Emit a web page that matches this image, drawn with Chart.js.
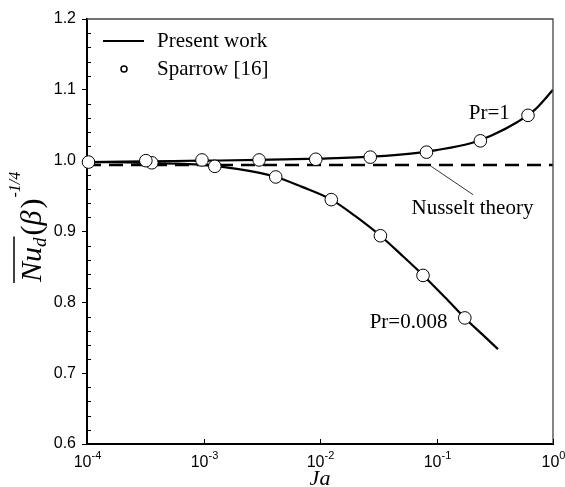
<!DOCTYPE html>
<html lang="en">
<head>
    <meta charset="UTF-8">
    <title>Nu vs Ja</title>
    <style>
        body {
            margin: 0;
            padding: 0;
            background-color: #ffffff;
        }
        #wrap {
            width: 565px;
            height: 487px;
        }
    </style>
    <script src="https://cdn.jsdelivr.net/npm/chart.js"></script>
</head>
<body>
    <div id="wrap">
        <canvas id="nuChart" width="565" height="487"></canvas>
    </div>

    <script>
        // present work, Pr = 1
        const pr1Ja = [1e-4, 3e-4, 1e-3, 3e-3, 1e-2, 3e-2, 0.06, 0.1, 0.2, 0.3, 0.5, 0.7, 1];
        const pr1Nu = [0.998, 0.999, 1.000, 1.001, 1.003, 1.006, 1.010, 1.015, 1.025, 1.036, 1.055, 1.072, 1.100];

        // present work, Pr = 0.008
        const pr008Ja = [1e-4, 3e-4, 1e-3, 2e-3, 4e-3, 7e-3, 0.0125, 0.02, 0.033, 0.05, 0.077, 0.12, 0.175, 0.25, 0.337];
        const pr008Nu = [0.998, 0.997, 0.994, 0.988, 0.978, 0.963, 0.945, 0.922, 0.894, 0.867, 0.838, 0.806, 0.778, 0.754, 0.734];

        // Sparrow [16]
        const sparrowPr1Ja = [1.03e-4, 3.2e-4, 9.7e-4, 3e-3, 9.2e-3, 0.027, 0.082, 0.238, 0.61];
        const sparrowPr1Nu = [0.998, 1.000, 1.001, 1.001, 1.002, 1.005, 1.012, 1.028, 1.064];
        const sparrowPr008Ja = [3.6e-4, 1.25e-3, 4.17e-3, 0.0125, 0.033, 0.0766, 0.175];
        const sparrowPr008Nu = [0.997, 0.992, 0.977, 0.945, 0.894, 0.838, 0.778];

        // Nusselt theory and its pointer
        const nusseltJa = [1e-4, 1];
        const nusseltNu = [0.994, 0.994];
        const pointerJa = [0.09, 0.206];
        const pointerNu = [0.992, 0.952];

        const xDecades = [1e-4, 1e-3, 1e-2, 1e-1, 1];
        const xExponents = ['-4', '-3', '-2', '-1', '0'];
        const yMinorTicks = [0.62, 0.64, 0.66, 0.68, 0.72, 0.74, 0.76, 0.78, 0.82, 0.84, 0.86, 0.88,
                             0.92, 0.94, 0.96, 0.98, 1.02, 1.04, 1.06, 1.08, 1.12, 1.14, 1.16, 1.18];

        const toPoints = (xs, ys) => xs.map((x, i) => ({ x: x, y: ys[i] }));

        const serif = '"Liberation Serif", "Times New Roman", serif';
        const sans = '"Liberation Sans", Arial, sans-serif';

        // everything the axes need but Chart.js doesn't draw
        const extras = {
            id: 'extras',
            afterDraw(chart) {
                const ctx = chart.ctx;
                const xs = chart.scales.x;
                const ys = chart.scales.y;
                const a = chart.chartArea;
                ctx.save();

                // top and right frame
                ctx.strokeStyle = '#444';
                ctx.lineWidth = 1.3;
                ctx.beginPath();
                ctx.moveTo(a.left, a.top);
                ctx.lineTo(a.right, a.top);
                ctx.lineTo(a.right, a.bottom);
                ctx.stroke();

                // minor y ticks, inward
                ctx.strokeStyle = '#000';
                ctx.lineWidth = 1;
                yMinorTicks.forEach(v => {
                    const py = Math.round(ys.getPixelForValue(v)) + 0.5;
                    ctx.beginPath();
                    ctx.moveTo(a.left, py);
                    ctx.lineTo(a.left + 4, py);
                    ctx.stroke();
                });

                // x decade ticks (inward) and labels 10^n
                xDecades.forEach((v, i) => {
                    const px = Math.round(xs.getPixelForValue(v)) + 0.5;
                    ctx.beginPath();
                    ctx.moveTo(px, a.bottom);
                    ctx.lineTo(px, a.bottom - 5);
                    ctx.stroke();

                    ctx.fillStyle = '#000';
                    ctx.textBaseline = 'alphabetic';
                    ctx.textAlign = 'left';
                    ctx.font = '16px ' + sans;
                    const w1 = ctx.measureText('10').width;
                    ctx.font = '11px ' + sans;
                    const w2 = ctx.measureText(xExponents[i]).width;
                    const start = px - (w1 + w2) / 2;
                    ctx.font = '16px ' + sans;
                    ctx.fillText('10', start, 467);
                    ctx.font = '11px ' + sans;
                    ctx.fillText(xExponents[i], start + w1, 459);
                });

                // x title
                ctx.font = 'italic 22px ' + serif;
                ctx.textAlign = 'center';
                ctx.fillText('Ja', (a.left + a.right) / 2, 485);

                // y title, rotated
                ctx.save();
                ctx.translate(41, 282);
                ctx.rotate(-Math.PI / 2);
                ctx.textAlign = 'left';
                let cx = 0;
                ctx.font = 'italic 30px ' + serif;
                ctx.fillText('Nu', cx, 0);
                cx += ctx.measureText('Nu').width;
                ctx.font = 'italic 19px ' + serif;
                ctx.fillText('d', cx, 5);
                cx += ctx.measureText('d').width;
                // overline over Nu_d
                ctx.lineWidth = 1.5;
                ctx.beginPath();
                ctx.moveTo(-1, -27);
                ctx.lineTo(cx + 1, -27);
                ctx.stroke();
                cx += 2;
                ctx.font = '30px ' + serif;
                ctx.fillText('(', cx, 0);
                cx += ctx.measureText('(').width;
                ctx.font = 'italic 30px ' + serif;
                ctx.fillText('\u03B2', cx, 0);
                cx += ctx.measureText('\u03B2').width + 2;
                ctx.font = '30px ' + serif;
                ctx.fillText(')', cx, 0);
                cx += ctx.measureText(')').width + 1;
                ctx.font = 'italic 16px ' + serif;
                ctx.fillText('-1/4', cx, -21);
                ctx.restore();

                // curve labels
                ctx.font = '21px ' + serif;
                ctx.textAlign = 'left';
                ctx.textBaseline = 'middle';
                ctx.fillText('Pr=1', xs.getPixelForValue(0.189), ys.getPixelForValue(1.067));
                ctx.fillText('Pr=0.008', xs.getPixelForValue(0.0267), ys.getPixelForValue(0.771));
                ctx.fillText('Nusselt theory', xs.getPixelForValue(0.061), ys.getPixelForValue(0.933));

                // legend
                ctx.lineWidth = 2.2;
                ctx.beginPath();
                ctx.moveTo(103, 41);
                ctx.lineTo(144, 41);
                ctx.stroke();
                ctx.lineWidth = 1.5;
                ctx.fillStyle = '#fff';
                ctx.beginPath();
                ctx.arc(124, 69, 3, 0, Math.PI * 2);
                ctx.fill();
                ctx.stroke();
                ctx.fillStyle = '#000';
                ctx.fillText('Present work', 157, 41);
                ctx.fillText('Sparrow [16]', 157, 69);

                ctx.restore();
            }
        };

        const ctx = document.getElementById('nuChart').getContext('2d');
        const nuChart = new Chart(ctx, {
            type: 'line',
            data: {
                datasets: [
                    {
                        label: 'Sparrow Pr=1',
                        data: toPoints(sparrowPr1Ja, sparrowPr1Nu),
                        showLine: false,
                        pointRadius: 6.3,
                        pointBackgroundColor: '#fff',
                        pointBorderColor: '#000',
                        pointBorderWidth: 1,
                        clip: false,
                        order: 0
                    },
                    {
                        label: 'Sparrow Pr=0.008',
                        data: toPoints(sparrowPr008Ja, sparrowPr008Nu),
                        showLine: false,
                        pointRadius: 6.3,
                        pointBackgroundColor: '#fff',
                        pointBorderColor: '#000',
                        pointBorderWidth: 1,
                        clip: false,
                        order: 0
                    },
                    {
                        label: 'Present work Pr=1',
                        data: toPoints(pr1Ja, pr1Nu),
                        borderColor: '#000',
                        borderWidth: 2.2,
                        pointRadius: 0,
                        cubicInterpolationMode: 'monotone',
                        order: 1
                    },
                    {
                        label: 'Present work Pr=0.008',
                        data: toPoints(pr008Ja, pr008Nu),
                        borderColor: '#000',
                        borderWidth: 2.2,
                        pointRadius: 0,
                        cubicInterpolationMode: 'monotone',
                        order: 1
                    },
                    {
                        label: 'Nusselt theory',
                        data: toPoints(nusseltJa, nusseltNu),
                        borderColor: '#000',
                        borderWidth: 2.5,
                        borderDash: [14, 8],
                        pointRadius: 0,
                        order: 2
                    },
                    {
                        label: 'pointer',
                        data: toPoints(pointerJa, pointerNu),
                        borderColor: '#000',
                        borderWidth: 0.8,
                        pointRadius: 0,
                        order: 2
                    }
                ]
            },
            options: {
                responsive: false,
                animation: false,
                devicePixelRatio: 1,
                layout: { padding: { left: 0, top: 19, right: 12, bottom: 0 } },
                scales: {
                    x: {
                        type: 'logarithmic',
                        min: 1e-4,
                        max: 1,
                        afterBuildTicks: s => { s.ticks = xDecades.map(v => ({ value: v })); },
                        afterFit: s => { s.height = 43; },
                        ticks: { display: false },
                        grid: { display: false },
                        border: { display: true, color: '#000', width: 2 }
                    },
                    y: {
                        min: 0.6,
                        max: 1.2,
                        afterFit: s => { s.width = 87; },
                        ticks: {
                            stepSize: 0.1,
                            padding: 6,
                            color: '#000',
                            font: { family: sans, size: 16 },
                            callback: v => v.toFixed(1)
                        },
                        grid: { drawOnChartArea: false, drawTicks: true, tickLength: 5, color: '#000' },
                        border: { display: true, color: '#000', width: 2 }
                    }
                },
                plugins: {
                    legend: { display: false },
                    tooltip: { enabled: false }
                }
            },
            plugins: [extras]
        });
    </script>
</body>
</html>
